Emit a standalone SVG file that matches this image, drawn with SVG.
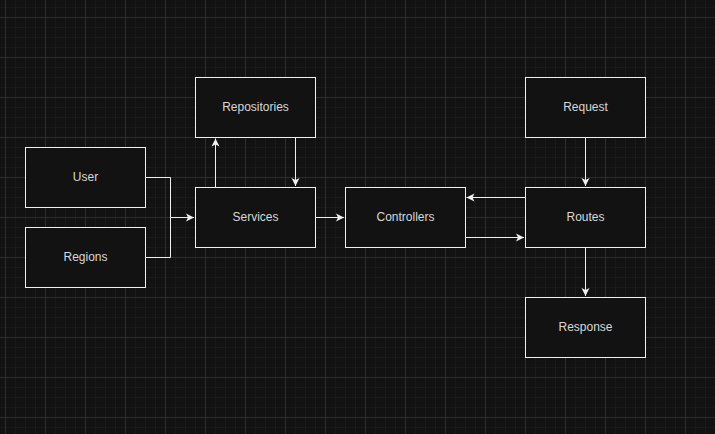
<svg xmlns="http://www.w3.org/2000/svg" width="715" height="434" viewBox="0 0 715 434">
<defs>
<pattern id="minor" x="5" y="7" width="10" height="10" patternUnits="userSpaceOnUse">
<path d="M0.5 0V10M0 0.5H10" stroke="#1a1a1a" stroke-width="1" fill="none"/>
</pattern>
<pattern id="major" x="5" y="17" width="40" height="40" patternUnits="userSpaceOnUse">
<path d="M0.5 0V40M0 0.5H40" stroke="#2c2c2c" stroke-width="1" fill="none"/>
</pattern>
<marker id="arr" markerWidth="10" markerHeight="10" refX="9" refY="5" orient="auto" markerUnits="userSpaceOnUse">
<path d="M1 1L9 5L1 9L3 5Z" fill="#f0f0f0"/>
</marker>
<style>
.box{fill:#121212;stroke:#f0f0f0;stroke-width:1}
.lbl{font-family:"Liberation Sans",Arial,sans-serif;font-size:12px;fill:#d8d8d8;text-anchor:middle;dominant-baseline:central}
.edge{fill:none;stroke:#f0f0f0;stroke-width:1}
</style>
</defs>
<rect width="715" height="434" fill="#121212"/>
<rect width="715" height="434" fill="url(#minor)"/>
<rect width="715" height="434" fill="url(#major)"/>
<g id="connectors">
<path class="edge" d="M145.5 177.5H170.5V217.5H194" marker-end="url(#arr)"/>
<path class="edge" d="M145.5 257.5H170.5V217.5"/>
<path class="edge" d="M215.5 187V138.5" marker-end="url(#arr)"/>
<path class="edge" d="M295.5 137V186" marker-end="url(#arr)"/>
<path class="edge" d="M315.5 217.5H344" marker-end="url(#arr)"/>
<path class="edge" d="M525 197.5H466.5" marker-end="url(#arr)"/>
<path class="edge" d="M465.5 237.5H524" marker-end="url(#arr)"/>
<path class="edge" d="M585.5 137V186" marker-end="url(#arr)"/>
<path class="edge" d="M585.5 247V296" marker-end="url(#arr)"/>
</g>
<g id="user"><rect class="box" x="25.5" y="147.5" width="120" height="60"/><text class="lbl" x="85.5" y="176.5">User</text></g>
<g id="regions"><rect class="box" x="25.5" y="227.5" width="120" height="60"/><text class="lbl" x="85.5" y="256.5">Regions</text></g>
<g id="repositories"><rect class="box" x="195.5" y="77.5" width="120" height="60"/><text class="lbl" x="255.5" y="106.5">Repositories</text></g>
<g id="services"><rect class="box" x="195.5" y="187.5" width="120" height="60"/><text class="lbl" x="255.5" y="216.5">Services</text></g>
<g id="controllers"><rect class="box" x="345.5" y="187.5" width="120" height="60"/><text class="lbl" x="405.5" y="216.5">Controllers</text></g>
<g id="request"><rect class="box" x="525.5" y="77.5" width="120" height="60"/><text class="lbl" x="585.5" y="106.5">Request</text></g>
<g id="routes"><rect class="box" x="525.5" y="187.5" width="120" height="60"/><text class="lbl" x="585.5" y="216.5">Routes</text></g>
<g id="response"><rect class="box" x="525.5" y="297.5" width="120" height="60"/><text class="lbl" x="585.5" y="326.5">Response</text></g>
</svg>
